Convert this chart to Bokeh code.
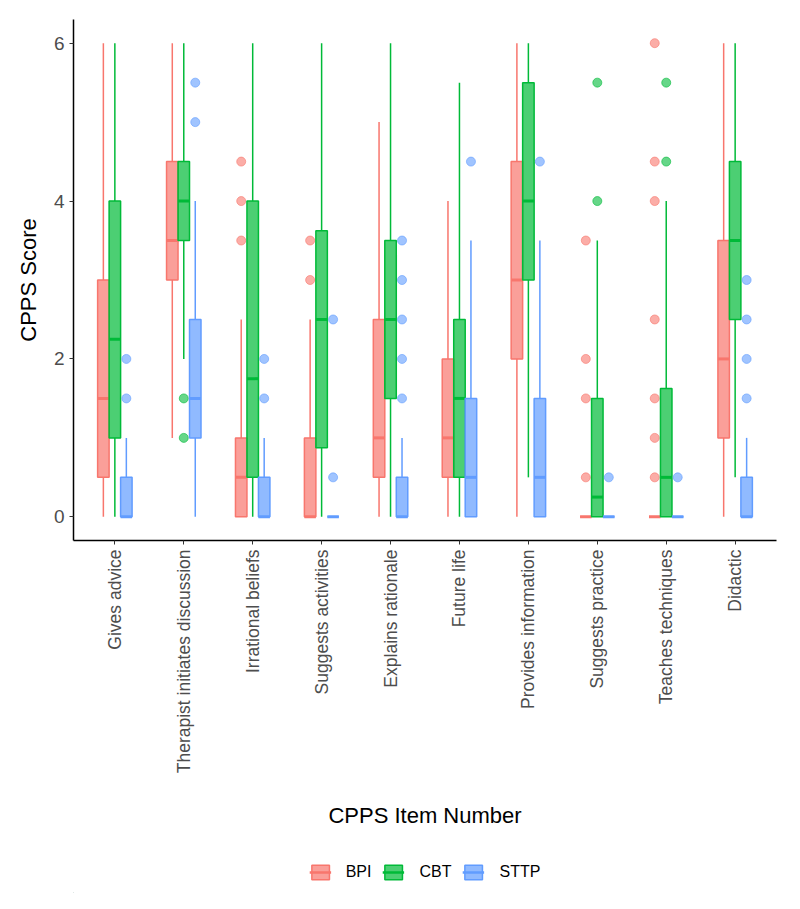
import numpy as np
from bokeh.plotting import figure
from bokeh.layouts import column
from bokeh.models import ColumnDataSource, FixedTicker, Legend, LegendItem, Range1d
from bokeh.embed import file_html
from bokeh.resources import INLINE

categories = ["Gives advice", "Therapist initiates discussion", "Irrational beliefs",
              "Suggests activities", "Explains rationale", "Future life",
              "Provides information", "Suggests practice", "Teaches techniques", "Didactic"]
groups = ["BPI", "CBT", "STTP"]

# box statistics per group (one value per category)
bpi_q1 = [0.5, 3.0, 0.0, 0.0, 0.5, 0.5, 2.0, 0.0, 0.0, 1.0]
bpi_med = [1.5, 3.5, 0.5, 0.0, 1.0, 1.0, 3.0, 0.0, 0.0, 2.0]
bpi_q3 = [3.0, 4.5, 1.0, 1.0, 2.5, 2.0, 4.5, 0.0, 0.0, 3.5]
bpi_lo = [0.0, 1.0, 0.0, 0.0, 0.0, 0.0, 0.0, 0.0, 0.0, 0.0]
bpi_hi = [6.0, 6.0, 2.5, 2.5, 5.0, 4.0, 6.0, 0.0, 0.0, 6.0]
bpi_out_cat = ["Irrational beliefs"] * 3 + ["Suggests activities"] * 2 + \
              ["Suggests practice"] * 4 + ["Teaches techniques"] * 7
bpi_out_val = [4.5, 4.0, 3.5, 3.5, 3.0, 3.5, 2.0, 1.5, 0.5,
               6.0, 4.5, 4.0, 2.5, 1.5, 1.0, 0.5]

cbt_q1 = [1.0, 3.5, 0.5, 0.875, 1.5, 0.5, 3.0, 0.0, 0.0, 2.5]
cbt_med = [2.25, 4.0, 1.75, 2.5, 2.5, 1.5, 4.0, 0.25, 0.5, 3.5]
cbt_q3 = [4.0, 4.5, 4.0, 3.625, 3.5, 2.5, 5.5, 1.5, 1.625, 4.5]
cbt_lo = [0.0, 2.0, 0.0, 0.0, 0.0, 0.0, 0.5, 0.0, 0.0, 0.5]
cbt_hi = [6.0, 6.0, 6.0, 6.0, 6.0, 5.5, 6.0, 3.5, 4.0, 6.0]
cbt_out_cat = ["Therapist initiates discussion"] * 2 + ["Suggests practice"] * 2 + \
              ["Teaches techniques"] * 2
cbt_out_val = [1.5, 1.0, 5.5, 4.0, 5.5, 4.5]

sttp_q1 = [0.0, 1.0, 0.0, 0.0, 0.0, 0.0, 0.0, 0.0, 0.0, 0.0]
sttp_med = [0.0, 1.5, 0.0, 0.0, 0.0, 0.5, 0.5, 0.0, 0.0, 0.0]
sttp_q3 = [0.5, 2.5, 0.5, 0.0, 0.5, 1.5, 1.5, 0.0, 0.0, 0.5]
sttp_lo = [0.0, 0.0, 0.0, 0.0, 0.0, 0.0, 0.0, 0.0, 0.0, 0.0]
sttp_hi = [1.0, 4.0, 1.0, 0.0, 1.0, 3.5, 3.5, 0.0, 0.0, 1.0]
sttp_out_cat = ["Gives advice"] * 2 + ["Therapist initiates discussion"] * 2 + \
               ["Irrational beliefs"] * 2 + ["Suggests activities"] * 2 + \
               ["Explains rationale"] * 5 + ["Future life", "Provides information",
               "Suggests practice", "Teaches techniques"] + ["Didactic"] * 4
sttp_out_val = [2.0, 1.5, 5.5, 5.0, 2.0, 1.5, 2.5, 0.5,
                3.5, 3.0, 2.5, 2.0, 1.5, 4.5, 4.5, 0.5, 0.5,
                3.0, 2.5, 2.0, 1.5]

stats = {
    "BPI": (bpi_q1, bpi_med, bpi_q3, bpi_lo, bpi_hi, bpi_out_cat, bpi_out_val),
    "CBT": (cbt_q1, cbt_med, cbt_q3, cbt_lo, cbt_hi, cbt_out_cat, cbt_out_val),
    "STTP": (sttp_q1, sttp_med, sttp_q3, sttp_lo, sttp_hi, sttp_out_cat, sttp_out_val),
}
colors = {"BPI": "#F8766D", "CBT": "#00BA38", "STTP": "#619CFF"}
dodge = {"BPI": -1 / 6, "CBT": 0.0, "STTP": 1 / 6}
box_w = 1 / 6

FONT = "Liberation Sans"

p = figure(width=784, height=850, x_range=Range1d(0.4, 10.6), y_range=Range1d(-0.3, 6.3),
           output_backend="svg", toolbar_location=None,
           min_border_left=73, min_border_right=8, min_border_top=19, min_border_bottom=310)
p.xgrid.visible = False
p.ygrid.visible = False
p.outline_line_color = None
p.background_fill_color = "white"
p.border_fill_color = "white"

# legend lives in a thin strip below the chart
lg = figure(width=784, height=43, x_range=Range1d(0, 1), y_range=Range1d(0, 1),
            output_backend="svg", toolbar_location=None,
            min_border=0)
lg.axis.visible = False
lg.grid.visible = False
lg.outline_line_color = None

items = []
for g in groups:
    q1, med, q3, lo, hi, ocat, oval = stats[g]
    x = np.arange(1, len(categories) + 1) + dodge[g]
    src = ColumnDataSource(dict(x=x, xl=x - box_w / 2, xr=x + box_w / 2,
                                q1=q1, med=med, q3=q3, lo=lo, hi=hi))
    c = colors[g]
    p.segment(x0="x", y0="q3", x1="x", y1="hi", source=src, line_color=c, line_width=1.5)
    p.segment(x0="x", y0="q1", x1="x", y1="lo", source=src, line_color=c, line_width=1.5)
    p.vbar(x="x", width=box_w, top="q3", bottom="q1", source=src,
           fill_color=c, fill_alpha=0.7, line_color=c, line_width=1.5)
    p.segment(x0="xl", y0="med", x1="xr", y1="med", source=src,
              line_color=c, line_width=3)
    ox = [categories.index(cn) + 1 + dodge[g] for cn in ocat]
    p.scatter(x=ox, y=oval, size=9, fill_color=c, line_color=c, fill_alpha=0.6, line_alpha=0.6)

    # legend key glyphs: one point placed outside the strip's visible range,
    # so only the legend swatch shows
    key = ColumnDataSource(dict(x=[-5.0], y=[-5.0], t=[-4.0], b=[-6.0], x0=[-5.1], x1=[-4.9]))
    kb = lg.vbar(x="x", width=0.1, top="t", bottom="b", source=key,
                 fill_color=c, fill_alpha=0.7, line_color=c, line_width=1.5)
    km = lg.segment(x0="x0", y0="y", x1="x1", y1="y", source=key,
                    line_color=c, line_width=2.5)
    items.append(LegendItem(label=g, renderers=[kb, km]))

legend = Legend(items=items, orientation="horizontal", location="center",
                glyph_width=22, glyph_height=18, label_standoff=15, spacing=11,
                label_text_font=FONT, label_text_font_size="16px",
                label_text_color="black", border_line_color=None,
                background_fill_alpha=0, margin=0, padding=4)
lg.add_layout(legend, "center")

# axes
for ax in (p.xaxis[0], p.yaxis[0]):
    ax.axis_line_color = "black"
    ax.axis_line_width = 1.5
    ax.major_tick_line_color = "#333333"
    ax.major_tick_in = 0
    ax.major_tick_out = 4
    ax.minor_tick_line_color = None
    ax.major_label_text_font = FONT
    ax.major_label_text_color = "#4D4D4D"
    ax.axis_label_text_font = FONT
    ax.axis_label_text_font_style = "normal"
    ax.axis_label_text_color = "black"
    ax.axis_label_text_font_size = "22px"

p.xaxis.ticker = FixedTicker(ticks=list(range(1, len(categories) + 1)))
p.xaxis.major_label_overrides = {i + 1: c for i, c in enumerate(categories)}
p.xaxis.major_label_orientation = np.pi / 2
p.xaxis.major_label_text_font_size = "17.5px"
p.xaxis.major_label_standoff = 5
p.xaxis.axis_label = "CPPS Item Number"
p.xaxis.axis_label_standoff = 27

p.yaxis.ticker = FixedTicker(ticks=[0, 2, 4, 6])
p.yaxis.major_label_text_font_size = "19px"
p.yaxis.major_label_standoff = 5
p.yaxis.axis_label = "CPPS Score"
p.yaxis.axis_label_standoff = 10

layout = column(p, lg, spacing=0)
open("out.html", "w").write(file_html(layout, INLINE))
